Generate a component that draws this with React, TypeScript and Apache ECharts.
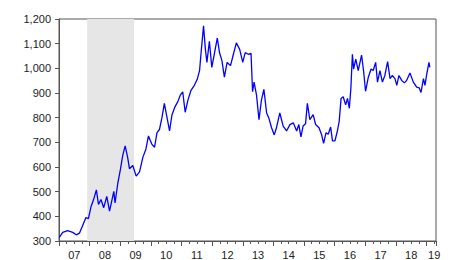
import React, { useEffect, useRef } from "react";
import * as echarts from "echarts";

// decimal-year dates and values
const dates = [
  2007.01, 2007.12, 2007.28, 2007.45, 2007.56, 2007.67, 2007.77, 2007.88, 2007.96,
  2008.05, 2008.13, 2008.22, 2008.29, 2008.37, 2008.46, 2008.56, 2008.65, 2008.72,
  2008.79, 2008.83, 2008.92, 2009.01, 2009.08, 2009.16, 2009.24, 2009.3, 2009.41,
  2009.52, 2009.63, 2009.74, 2009.84, 2009.92, 2010.03, 2010.12, 2010.2, 2010.28,
  2010.36, 2010.44, 2010.52, 2010.61, 2010.69, 2010.79, 2010.88, 2010.96, 2011.04,
  2011.12, 2011.21, 2011.31, 2011.42, 2011.52, 2011.59, 2011.64, 2011.72, 2011.78,
  2011.83, 2011.91, 2011.99, 2012.08, 2012.17, 2012.24, 2012.32, 2012.4, 2012.49,
  2012.6, 2012.68, 2012.79, 2012.9, 2013.0, 2013.08, 2013.18, 2013.27, 2013.32,
  2013.37, 2013.45, 2013.53, 2013.61, 2013.69, 2013.78, 2013.85, 2013.94, 2014.03,
  2014.1, 2014.21, 2014.32, 2014.43, 2014.54, 2014.65, 2014.76, 2014.83, 2014.9,
  2014.97, 2015.05, 2015.11, 2015.19, 2015.3, 2015.38, 2015.49, 2015.57, 2015.64,
  2015.72, 2015.79, 2015.87, 2015.93, 2016.01, 2016.09, 2016.15, 2016.21, 2016.28,
  2016.36, 2016.42, 2016.48, 2016.53, 2016.58, 2016.62, 2016.69, 2016.77, 2016.88,
  2016.95, 2017.01, 2017.1, 2017.19, 2017.26, 2017.34, 2017.4, 2017.48, 2017.56,
  2017.64, 2017.73, 2017.81, 2017.88, 2017.97, 2018.03, 2018.1, 2018.19, 2018.28,
  2018.35, 2018.46, 2018.57, 2018.68, 2018.76, 2018.82, 2018.9, 2018.95, 2019.01,
  2019.08, 2019.11,
];
const values = [
  315, 335, 342, 335, 325, 332, 362, 395, 391,
  441, 468, 507, 448, 468, 435, 481, 421, 461,
  501, 454, 534, 593, 646, 686, 640, 593, 606,
  563, 580, 640, 673, 726, 693, 680, 739, 752,
  799, 858, 805, 746, 812, 845, 865, 891, 905,
  822, 871, 911, 931, 958, 991, 1064, 1172, 1077,
  1024, 1110, 1004, 1064, 1123, 1064, 1031, 964, 1024,
  1011, 1050, 1103, 1077, 1024, 1064, 1057, 1061, 905,
  944, 891, 792, 871, 915, 819, 799, 759, 730,
  759, 819, 766, 746, 772, 779, 746, 772, 722,
  766, 775, 858, 792, 812, 772, 759, 733, 696,
  739, 733, 762, 706, 706, 746, 786, 878, 885,
  852, 878, 838, 918, 1057, 997, 1037, 991, 1054,
  984, 907, 964, 997, 991, 1024, 944, 991, 944,
  971, 1027, 958, 971, 958, 931, 971, 951, 941,
  951, 981, 944, 924, 921, 902, 958, 931, 978,
  1024, 1004,
];
const yearLabels = ["07", "08", "09", "10", "11", "12", "13", "14", "15", "16", "17", "18", "19"];
const recession = [2007.92, 2009.45];

export default function App() {
  const ref = useRef<HTMLDivElement>(null);
  useEffect(() => {
    if (!ref.current) return;
    const chart = echarts.init(ref.current, undefined, { renderer: "svg" });
    const font = "Liberation Sans, Arial, sans-serif";
    const xMin = 2007;
    const xMax = 2019.31;
    chart.setOption({
      animation: false,
      backgroundColor: "#ffffff",
      grid: {
        left: 59,
        right: 14,
        top: 19,
        bottom: 14.5,
        show: true,
        borderColor: "#555",
        borderWidth: 1,
        backgroundColor: "transparent",
      },
      xAxis: [
        {
          type: "value",
          min: xMin,
          max: xMax,
          interval: 1,
          position: "bottom",
          axisLine: { show: true, lineStyle: { color: "#555", width: 1 } },
          axisTick: { show: true, length: 5, lineStyle: { color: "#555" } },
          minorTick: { show: true, splitNumber: 4, length: 3, lineStyle: { color: "#555" } },
          axisLabel: { show: false },
          splitLine: { show: false },
        },
        {
          type: "value",
          min: xMin,
          max: xMax,
          interval: 0.25,
          position: "bottom",
          axisLine: { show: false },
          axisTick: { show: false },
          splitLine: { show: false },
          axisLabel: {
            show: true,
            margin: 8,
            fontSize: 11,
            fontFamily: font,
            color: "#222",
            showMinLabel: true,
            showMaxLabel: false,
            interval: 0,
            hideOverlap: false,
            formatter: (v: number) => {
              const frac = Math.round((v - Math.floor(v)) * 100);
              const yr = Math.floor(v);
              if (frac === 50) {
                const idx = yr - 2007;
                return yearLabels[idx] ?? "";
              }
              if (yr === 2019 && frac === 25) return yearLabels[12];
              return "";
            },
          },
        },
      ],
      yAxis: {
        type: "value",
        min: 300,
        max: 1200,
        interval: 100,
        axisLine: { show: true, lineStyle: { color: "#555", width: 1 } },
        axisTick: { show: true, length: 4, lineStyle: { color: "#555" } },
        splitLine: { show: false },
        axisLabel: {
          margin: 8,
          fontSize: 11,
          fontFamily: font,
          color: "#222",
          formatter: (v: number) => v.toLocaleString("en-US"),
        },
      },
      series: [
        {
          type: "line",
          xAxisIndex: 0,
          data: dates.map((d, i) => [d, values[i]]),
          showSymbol: false,
          symbol: "none",
          lineStyle: { color: "#0000ff", width: 1.3 },
          markArea: {
            silent: true,
            itemStyle: { color: "#e6e6e6" },
            data: [[{ xAxis: recession[0] }, { xAxis: recession[1] }]],
          },
          z: 3,
        },
      ],
    });
    return () => chart.dispose();
  }, []);
  return <div ref={ref} style={{ width: 450, height: 260, position: "absolute", left: 0, top: 0 }} />;
}
